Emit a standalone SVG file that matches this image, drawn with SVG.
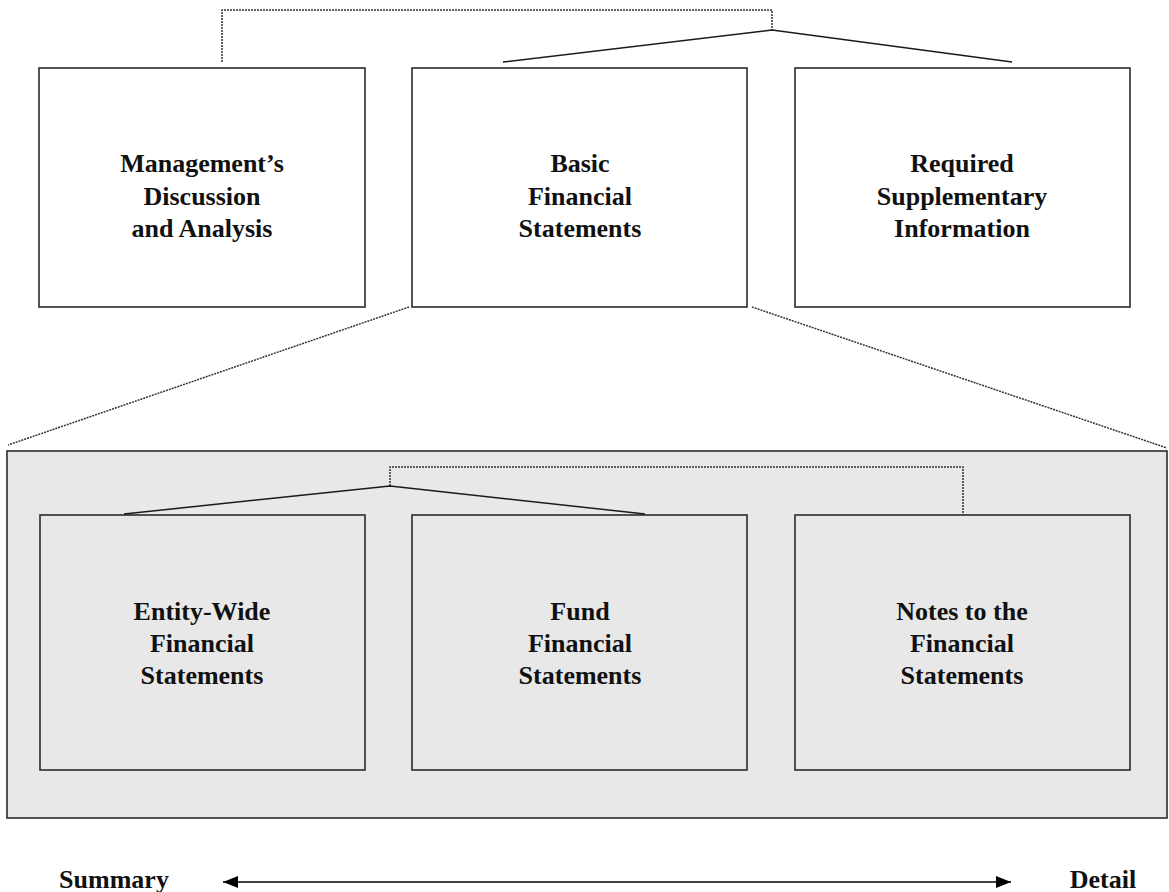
<svg xmlns="http://www.w3.org/2000/svg" width="1169" height="892" viewBox="0 0 1169 892">
<defs>
<style>
.box{fill:#ffffff;stroke:#2b2b2b;stroke-width:1.6}
.gbox{fill:#e8e8e8;stroke:#2b2b2b;stroke-width:1.6}
.lbl{font-family:"Liberation Serif","Times New Roman",serif;font-weight:bold;font-size:26px;fill:#111;text-anchor:middle}
.solid{fill:none;stroke:#1a1a1a;stroke-width:1.5}
.dot{fill:none;stroke:#333;stroke-width:1.5;stroke-dasharray:2 1}
</style>
<marker id="ah" viewBox="0 0 15 12" refX="15" refY="6" markerWidth="15" markerHeight="12" markerUnits="userSpaceOnUse" orient="auto-start-reverse">
<path d="M0,0 L15,6 L0,12 Z" fill="#000"/>
</marker>
</defs>
<rect width="1169" height="892" fill="#ffffff"/>
<g id="panel">
<rect class="gbox" x="7" y="451" width="1160" height="367"/>
</g>
<g id="mda">
<rect class="box" x="39" y="68" width="326" height="239"/>
<text class="lbl" x="202" y="172">Management’s</text>
<text class="lbl" x="202" y="205">Discussion</text>
<text class="lbl" x="202" y="237">and Analysis</text>
</g>
<g id="bfs">
<rect class="box" x="412" y="68" width="335" height="239"/>
<text class="lbl" x="580" y="172">Basic</text>
<text class="lbl" x="580" y="205">Financial</text>
<text class="lbl" x="580" y="237">Statements</text>
</g>
<g id="rsi">
<rect class="box" x="795" y="68" width="335" height="239"/>
<text class="lbl" x="962" y="172">Required</text>
<text class="lbl" x="962" y="205">Supplementary</text>
<text class="lbl" x="962" y="237">Information</text>
</g>
<g id="ewfs">
<rect class="gbox" x="40" y="515" width="325" height="255"/>
<text class="lbl" x="202" y="620">Entity-Wide</text>
<text class="lbl" x="202" y="652">Financial</text>
<text class="lbl" x="202" y="684">Statements</text>
</g>
<g id="ffs">
<rect class="gbox" x="412" y="515" width="335" height="255"/>
<text class="lbl" x="580" y="620">Fund</text>
<text class="lbl" x="580" y="652">Financial</text>
<text class="lbl" x="580" y="684">Statements</text>
</g>
<g id="notes">
<rect class="gbox" x="795" y="515" width="335" height="255"/>
<text class="lbl" x="962" y="620">Notes to the</text>
<text class="lbl" x="962" y="652">Financial</text>
<text class="lbl" x="962" y="684">Statements</text>
</g>
<g id="connectors">
<path class="dot" d="M222,62 V10 H772 V30"/>
<path class="solid" d="M503,62 L772,30 L1012,62"/>
<path class="dot" d="M409,307 L8,445"/>
<path class="dot" d="M752,307 L1167,448"/>
<path class="dot" d="M390,486 V467 H963 V515"/>
<path class="solid" d="M124,514 L390,486 L645,514"/>
<line x1="223" y1="882" x2="1011" y2="882" stroke="#000" stroke-width="1.6" marker-start="url(#ah)" marker-end="url(#ah)"/>
</g>
<g id="scale">
<text class="lbl" x="114" y="888" font-size="27">Summary</text>
<text class="lbl" x="1103" y="888" font-size="27">Detail</text>
</g>
</svg>
